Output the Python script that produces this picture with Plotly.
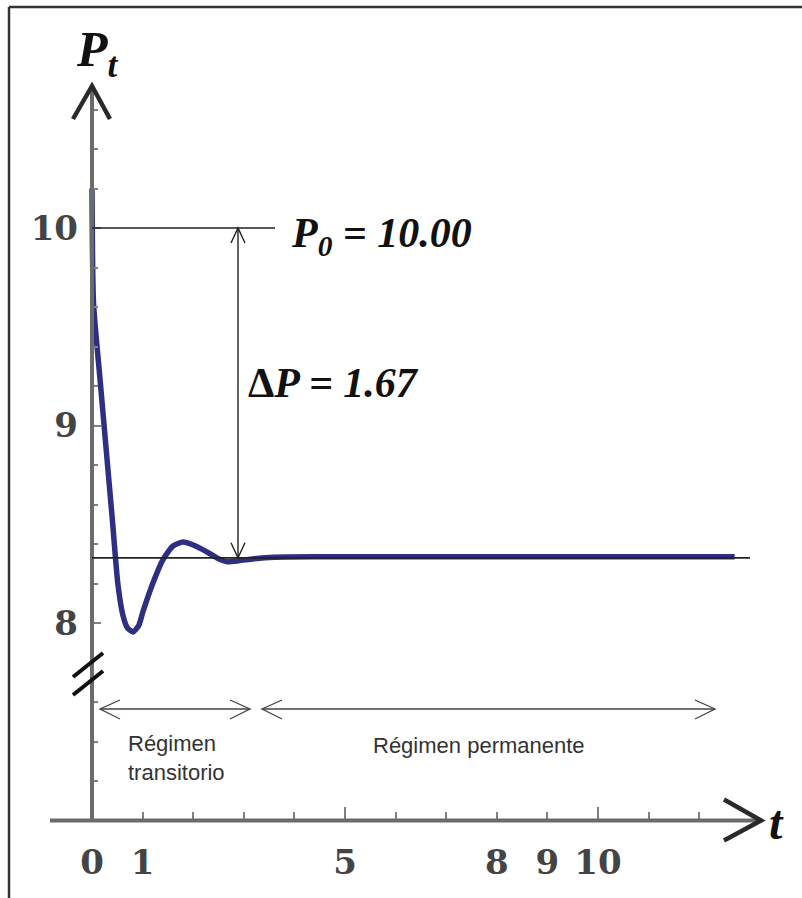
import plotly.graph_objects as go

# Pressure response P(t): transient oscillation settling to a steady value
t_values = [0, 0.03, 0.16, 0.29, 0.40, 0.51, 0.61, 0.70, 0.81, 0.92, 1.01, 1.20,
            1.40, 1.60, 1.80, 2.00, 2.27, 2.50, 2.67, 2.90, 3.20, 3.60, 4.50, 6.0, 8.0,
            10.0, 12.7]
p_values = [10.2, 9.62, 9.23, 8.85, 8.53, 8.20, 8.04, 7.975, 7.955, 7.985, 8.06, 8.20,
            8.32, 8.39, 8.41, 8.395, 8.36, 8.325, 8.31, 8.315, 8.325, 8.333, 8.335, 8.335,
            8.335, 8.335, 8.335]

P0 = 10.00
DELTA_P = 1.67
P_STEADY = P0 - DELTA_P

x_tick_vals = [0, 1, 5, 8, 9, 10]
x_tick_text = ["0", "1", "5", "8", "9", "10"]
x_major_marks = [0, 5, 10]
x_minor_marks = [1, 2, 3, 4, 6, 7, 8, 9, 11, 12]
y_tick_vals = [8, 9, 10]
y_tick_text = ["8", "9", "10"]
y_minor_marks = [7.2, 7.4, 7.6, 8.2, 8.4, 8.6, 8.8, 9.2, 9.4, 9.6, 9.8, 10.2, 10.4, 10.6]

W, H = 802, 898
# pixel scale of the drawing: origin column, unit sizes
X0_PX, T_UNIT_PX = 92, 50.6
P10_PX, P_UNIT_PX = 228, 197.5


def X(px):
    return (px - X0_PX) / T_UNIT_PX


def Y(py):
    return 10 - (py - P10_PX) / P_UNIT_PX


X_RANGE = [X(0), X(W)]
Y_RANGE = [Y(H), Y(0)]
X_AXIS_P = 7.0   # level where the time axis is drawn

AXIS_GRAY = "#6b6b6b"
INK = "#222222"
CURVE = "#2e2e82"

fig = go.Figure()

fig.add_trace(go.Scatter(
    x=t_values, y=p_values, mode="lines",
    line=dict(color=CURVE, width=5.5, shape="spline", smoothing=0.6),
    hoverinfo="skip", showlegend=False,
))
# carrier for the labelled time axis
fig.add_trace(go.Scatter(x=[None], y=[None], xaxis="x2", mode="lines",
                         showlegend=False, hoverinfo="skip"))

shapes = []


def seg(x0, y0, x1, y1, color=INK, width=1.6):
    shapes.append(dict(type="line", xref="x", yref="y", x0=x0, y0=y0, x1=x1, y1=y1,
                       line=dict(color=color, width=width), layer="above"))


def chevron(tip_t, tip_p, dx1, dy1, dx2, dy2, color=INK, width=1.6):
    # open arrow head: two arms given in pixel offsets from the tip
    a = (tip_t + dx1 / T_UNIT_PX, tip_p - dy1 / P_UNIT_PX)
    b = (tip_t + dx2 / T_UNIT_PX, tip_p - dy2 / P_UNIT_PX)
    shapes.append(dict(type="path", xref="x", yref="y",
                       path=f"M {a[0]},{a[1]} L {tip_t},{tip_p} L {b[0]},{b[1]}",
                       line=dict(color=color, width=width), layer="above"))


# frame (top and left edges)
shapes.append(dict(type="line", xref="paper", yref="paper", x0=9 / W, y0=1 - 7 / H,
                   x1=1, y1=1 - 7 / H, line=dict(color="#333333", width=2.5)))
shapes.append(dict(type="line", xref="paper", yref="paper", x0=9 / W, y0=1 - 7 / H,
                   x1=9 / W, y1=0, line=dict(color="#333333", width=2.5)))

# axes with arrow heads
seg(X(50), X_AXIS_P, X(758), X_AXIS_P, color=AXIS_GRAY, width=4)
seg(0, X_AXIS_P, 0, Y(88), color=AXIS_GRAY, width=4)
chevron(X(761), X_AXIS_P, -37, -21, -37, 20, color="#2a2a2a", width=4.5)
chevron(0, Y(86), -19, 33, 18, 33, color="#2a2a2a", width=4.5)

# axis break marks
seg(X(73), Y(677), X(103), Y(653), color="#111111", width=4)
seg(X(73), Y(695), X(103), Y(671), color="#111111", width=4)

# reference levels
seg(0, P0, X(275), P0, width=1.6)
seg(0, P_STEADY, X(750), P_STEADY, width=1.8)

# ΔP double arrow
dp_t = X(238)
seg(dp_t, P0, dp_t, P_STEADY, width=1.4)
chevron(dp_t, P0, -7, 15, 7, 15, width=1.4)
chevron(dp_t, P_STEADY, -7, -15, 7, -15, width=1.4)

# regime spans
reg_p = Y(709)
seg(X(100), reg_p, X(250), reg_p, color="#444444", width=1.3)
chevron(X(100), reg_p, 20, -9, 20, 10, color="#444444", width=1.3)
chevron(X(250), reg_p, -20, -9, -20, 10, color="#444444", width=1.3)
seg(X(262), reg_p, X(715), reg_p, color="#444444", width=1.3)
chevron(X(262), reg_p, 20, -9, 20, 10, color="#444444", width=1.3)
chevron(X(715), reg_p, -20, -9, -20, 10, color="#444444", width=1.3)

serif = "Liberation Serif"
annotations = [
    dict(x=X(74), y=Y(53), text="<b><i>P<sub>t</sub></i></b>", showarrow=False,
         xanchor="left", yanchor="middle", font=dict(family=serif, size=50, color="#111111")),
    dict(x=X(767), y=Y(822), text="<b><i>t</i></b>", showarrow=False,
         xanchor="left", yanchor="middle", font=dict(family=serif, size=48, color="#111111")),
    dict(x=X(289), y=Y(236), text="<b><i>P<sub>0</sub> = 10.00</i></b>", showarrow=False,
         xanchor="left", yanchor="middle", font=dict(family=serif, size=42, color="#111111")),
    dict(x=X(246), y=Y(383), text="<b>Δ</b><b><i>P = 1.67</i></b>", showarrow=False,
         xanchor="left", yanchor="middle", font=dict(family=serif, size=42, color="#111111")),
    dict(x=X(126), y=Y(758), text="Régimen<br>transitorio", showarrow=False,
         xanchor="left", yanchor="middle", align="left",
         font=dict(family="Liberation Sans", size=22, color="#333333")),
    dict(x=X(479), y=Y(745), text="Régimen permanente", showarrow=False,
         xanchor="center", yanchor="middle",
         font=dict(family="Liberation Sans", size=22, color="#333333")),
]

tick_font = dict(family="DejaVu Serif", size=34, color="#444444", weight="bold")
x_pos = (X_AXIS_P - Y_RANGE[0]) / (Y_RANGE[1] - Y_RANGE[0])
y_pos = (0 - X_RANGE[0]) / (X_RANGE[1] - X_RANGE[0])

fig.update_layout(
    width=W, height=H,
    margin=dict(l=0, r=0, t=0, b=0),
    paper_bgcolor="white", plot_bgcolor="white",
    xaxis=dict(range=X_RANGE, anchor="free", position=x_pos, showgrid=False,
               zeroline=False, showline=False, showticklabels=False,
               tickvals=x_major_marks, ticks="inside", ticklen=14, tickwidth=2,
               tickcolor="#808080",
               minor=dict(tickvals=x_minor_marks, ticks="inside", ticklen=9,
                          tickwidth=2, tickcolor="#808080", showgrid=False)),
    xaxis2=dict(range=X_RANGE, overlaying="x", anchor="free", position=x_pos,
                side="bottom", showgrid=False, zeroline=False, showline=False,
                tickvals=x_tick_vals, ticktext=x_tick_text, ticks="",
                tickfont=tick_font, ticklabelstandoff=18),
    yaxis=dict(range=Y_RANGE, anchor="free", position=y_pos, showgrid=False,
               zeroline=False, showline=False,
               tickvals=y_tick_vals, ticktext=y_tick_text, ticks="inside",
               ticklen=8, tickwidth=2, tickcolor="#808080",
               tickfont=tick_font, ticklabelstandoff=14,
               minor=dict(tickvals=y_minor_marks, ticks="inside", ticklen=5,
                          tickwidth=2, tickcolor="#808080", showgrid=False)),
    shapes=shapes,
    annotations=annotations,
)

fig.write_html("out.html")
